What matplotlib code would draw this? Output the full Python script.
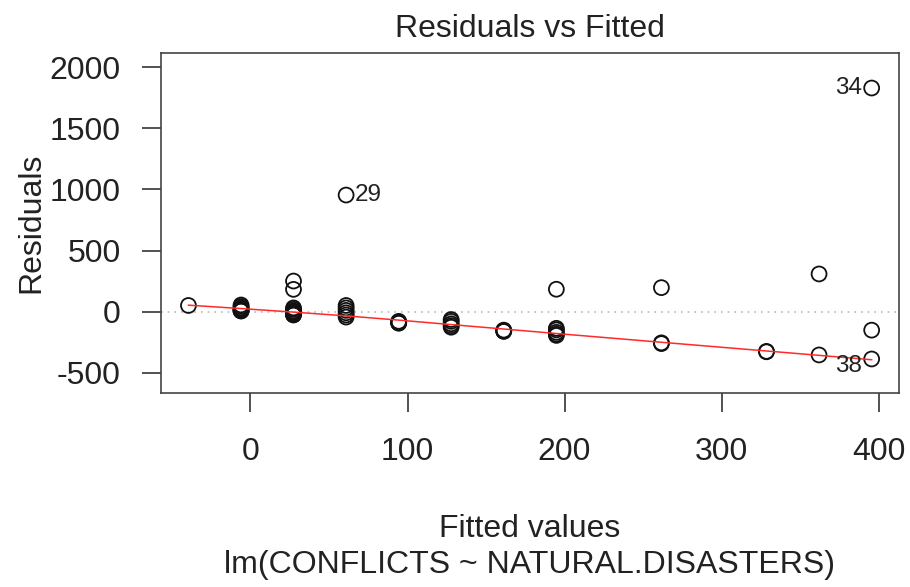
import numpy as np
import matplotlib
matplotlib.use("Agg")
from matplotlib import pyplot as plt

plt.rcParams['font.family'] = ['Liberation Sans', 'DejaVu Sans']
plt.rcParams['axes.unicode_minus'] = False

# fitted level for each point (lm(CONFLICTS ~ NATURAL.DISASTERS))
fitted = [-39.5,
          -6.0, -6.0, -6.0, -6.0, -6.0, -6.0, -6.0, -6.0,
          27.4, 27.4, 27.4, 27.4, 27.4, 27.4, 27.4, 27.4, 27.4, 27.4,
          60.9, 60.9, 60.9, 60.9, 60.9, 60.9, 60.9,
          94.4, 94.4, 94.4, 94.4, 94.4,
          127.8, 127.8, 127.8, 127.8, 127.8,
          161.3, 161.3, 161.3, 161.3,
          194.8, 194.8, 194.8, 194.8, 194.8, 194.8,
          261.7, 261.7, 261.7,
          328.6, 328.6,
          362.1, 362.1,
          395.6, 395.6, 395.6]
residuals = [50,
             6, 6, 6, 12, 20, 30, 42, 54,
             -27, -27, -22, -15, -5, 5, 18, 30, 182, 250,
             -45, -28, -10, 10, 30, 50, 954,
             -94, -94, -90, -86, -80,
             -128, -115, -100, -80, -65,
             -161, -161, -156, -152,
             -195, -185, -170, -150, -137, 183,
             -262, -256, 196,
             -329, -326,
             -355, 308,
             -388, -152, 1830]

# the three largest residuals get labelled with their row number
id_labels = ["34", "29", "38"]
id_fitted = [395.6, 60.9, 395.6]
id_resid = [1830, 954, -388]

xticks = [0, 100, 200, 300, 400]
yticks = [-500, 0, 500, 1000, 1500, 2000]


def lowess(x, y, f=2/3, iters=3):
    order = np.argsort(x, kind="stable")
    x = np.asarray(x, float)[order]
    y = np.asarray(y, float)[order]
    n = len(x)
    r = int(np.ceil(f * n))
    robust = np.ones(n)
    yest = np.zeros(n)
    for it in range(iters + 1):
        for i in range(n):
            d = np.abs(x - x[i])
            h = np.sort(d)[r - 1]
            w = np.clip(d / h, 0, 1)
            w = (1 - w ** 3) ** 3 * robust
            sw = w.sum()
            xm = (w * x).sum() / sw
            ym = (w * y).sum() / sw
            sxx = (w * (x - xm) ** 2).sum()
            if sxx > 1e-9:
                b = (w * (x - xm) * (y - ym)).sum() / sxx
            else:
                b = 0.0
            yest[i] = ym + b * (x[i] - xm)
        res = y - yest
        s = np.median(np.abs(res))
        u = np.clip(res / (6 * s), -1, 1)
        robust = (1 - u ** 2) ** 2
    return x, yest


fig = plt.figure(figsize=(9.1, 5.87), dpi=100)
ax = fig.add_axes([0.1769, 0.331, 0.811, 0.5792])

ax.axhline(0, color="#bbbbbb", linestyle=(0, (1, 3)), linewidth=1.2, zorder=1)
ax.scatter(fitted, residuals, s=115, facecolors="none", edgecolors="#111111",
           linewidths=1.3, zorder=2)
lx, ly = lowess(fitted, residuals)
ax.plot(lx, ly, color="#ff2a2a", linewidth=1.1, zorder=3)

for lab, fx, ry in zip(id_labels, id_fitted, id_resid):
    if fx > 200:
        ax.annotate(lab, (fx, ry), xytext=(-7, -5 if ry < 0 else 0),
                    textcoords="offset points", ha="right", va="center",
                    fontsize=17.5, color="#222222")
    else:
        ax.annotate(lab, (fx, ry), xytext=(6, 0), textcoords="offset points",
                    ha="left", va="center", fontsize=17.5, color="#222222")

ax.set_xlim(-57, 413)
ax.set_ylim(-664, 2119)
ax.set_xticks(xticks)
ax.set_yticks(yticks)
ax.tick_params(length=14, width=1.2, labelsize=23, color="#333333", labelcolor="#222222")
ax.tick_params(axis="x", pad=18)
ax.tick_params(axis="y", pad=15)
for sp in ax.spines.values():
    sp.set_color("#444444")
    sp.set_linewidth(1.2)

ax.set_title("Residuals vs Fitted", fontsize=23, pad=11, color="#222222")
ax.set_ylabel("Residuals", fontsize=23, labelpad=2, color="#222222")
ax.set_xlabel("Fitted values\nlm(CONFLICTS ~ NATURAL.DISASTERS)", fontsize=23,
              labelpad=34, color="#222222", linespacing=1.25)

fig.savefig("out.png", dpi=100)
